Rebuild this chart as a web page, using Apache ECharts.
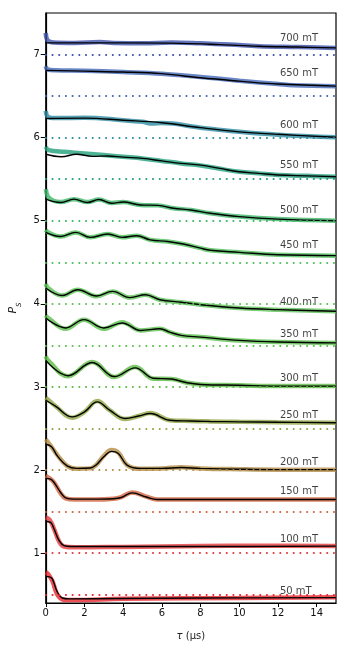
<!DOCTYPE html>
<html>
<head>
<meta charset="utf-8">
<script src="https://cdn.jsdelivr.net/npm/echarts@6/dist/echarts.min.js"></script>
<style>
  html, body { margin: 0; padding: 0; background: #fff; }
  #chart { width: 351px; height: 650px; }
</style>
</head>
<body>
<div id="chart"></div>
<script>
// field labels, offsets (dotted baselines) and label heights
const fields = ["50 mT", "100 mT", "150 mT", "200 mT", "250 mT", "300 mT", "350 mT",
  "400 mT", "450 mT", "500 mT", "550 mT", "600 mT", "650 mT", "700 mT"];
const baselines = [0.5, 1.0, 1.5, 2.0, 2.5, 3.0, 3.5, 4.0, 4.5, 5.0, 5.5, 6.0, 6.5, 7.0];
const labelY = [0.54, 1.17, 1.74, 2.09, 2.66, 3.10, 3.63, 4.02, 4.70, 5.13, 5.67, 6.15, 6.77, 7.19];
const colors = ["#e8262e", "#e53a3c", "#d0633f", "#b48d45", "#8fa543", "#5dbb45", "#5ac14c",
  "#5cc256", "#4dbf5a", "#3cb667", "#22a07b", "#2d8ca1", "#4267b7", "#3e52ab"];
const xTicks = [0, 2, 4, 6, 8, 10, 12, 14];
const yTicks = [1, 2, 3, 4, 5, 6, 7];

// fitted curves (black), [tau, P_S + offset]
const fit50 = [[0,0.72],[0.2,0.715],[0.34,0.69],[0.6,0.53],[0.86,0.46],[1.2,0.45],[4,0.455],[8,0.46],[15,0.465]];
const fit100 = [[0,1.38],[0.25,1.37],[0.43,1.29],[0.69,1.15],[0.94,1.09],[1.3,1.08],[3,1.08],[8,1.08],[15,1.085]];
const fit150 = [[0,1.90],[0.25,1.89],[0.43,1.85],[0.77,1.73],[1.03,1.665],[1.46,1.65],[2.5,1.65],[3.5,1.655],[3.9,1.67],[4.47,1.725],[5.2,1.675],[5.75,1.645],[7,1.645],[10,1.645],[15,1.645]];
const fit200 = [[0,2.31],[0.3,2.28],[0.6,2.17],[1.1,2.05],[1.6,2.02],[2.3,2.025],[2.6,2.06],[3.0,2.16],[3.4,2.225],[3.75,2.2],[4.2,2.06],[4.9,2.02],[6,2.02],[7,2.03],[8,2.02],[10,2.01],[12,2.005],[15,2.005]];
const fit250 = [[0,2.84],[0.5,2.77],[1.37,2.64],[2,2.70],[2.66,2.82],[3.3,2.72],[4.1,2.62],[4.8,2.65],[5.4,2.68],[6.4,2.60],[7.5,2.59],[8.5,2.585],[10,2.58],[12,2.575],[15,2.57]];
const fit300 = [[0,3.32],[1.15,3.135],[2.4,3.295],[3.55,3.125],[4.62,3.23],[5.55,3.105],[6.5,3.095],[7.3,3.05],[8,3.03],[10,3.02],[12,3.01],[15,3.01]];
const fit350 = [[0,3.83],[1.03,3.71],[1.97,3.81],[3.0,3.71],[3.95,3.77],[4.9,3.68],[5.9,3.70],[6.4,3.66],[7,3.62],[8,3.60],[10,3.56],[12,3.54],[15,3.53]];
const fit400 = [[0,4.19],[0.86,4.10],[1.65,4.17],[2.63,4.095],[3.45,4.15],[4.35,4.075],[5.15,4.11],[5.9,4.05],[7,4.02],[8,3.99],[10,3.95],[12,3.93],[15,3.91]];
const fit450 = [[0,4.86],[0.77,4.81],[1.55,4.86],[2.3,4.80],[3.2,4.84],[3.95,4.80],[4.7,4.82],[5.4,4.77],[6.3,4.75],[7.1,4.72],[8,4.67],[8.5,4.645],[10,4.62],[12,4.59],[15,4.58]];
const fit500 = [[0,5.26],[0.77,5.22],[1.46,5.26],[2.15,5.22],[2.75,5.255],[3.4,5.21],[4.0,5.225],[4.9,5.19],[5.8,5.185],[6.6,5.15],[7.5,5.13],[8.5,5.09],[10,5.05],[12,5.02],[15,5.0]];
const fit550 = [[0,5.80],[0.8,5.77],[1.6,5.80],[2.4,5.775],[3.2,5.78],[4,5.765],[5,5.75],[6,5.72],[7,5.69],[8,5.67],[9,5.63],[10,5.59],[11,5.57],[12,5.55],[13.5,5.54],[15,5.53]];
const fit600 = [[0,6.23],[2,6.235],[4,6.21],[6,6.18],[8,6.12],[10,6.07],[12,6.04],[15,6.005]];
const fit650 = [[0,6.81],[2,6.80],[4,6.79],[6,6.77],[8,6.72],[10,6.68],[12,6.645],[15,6.62]];
const fit700 = [[0,7.14],[4,7.14],[7,7.135],[9,7.12],[11,7.10],[13,7.09],[15,7.08]];

// measured traces (coloured bands)
const data50 = [[0,0.77],[0.15,0.74],[0.35,0.66],[0.6,0.50],[0.9,0.44],[1.5,0.435],[4,0.45],[10,0.46],[15,0.47]];
const data100 = [[0,1.43],[0.2,1.40],[0.43,1.29],[0.69,1.14],[0.94,1.08],[1.5,1.07],[4,1.075],[8,1.085],[11,1.09],[15,1.085]];
const data150 = [[0,1.93],[0.2,1.90],[0.43,1.85],[0.77,1.72],[1.03,1.66],[1.5,1.645],[2.5,1.645],[3.5,1.655],[3.9,1.675],[4.47,1.73],[5.2,1.68],[5.75,1.645],[7,1.645],[10,1.645],[15,1.645]];
const data200 = [[0,2.37],[0.2,2.31],[0.6,2.18],[1.1,2.05],[1.6,2.015],[2.3,2.02],[2.6,2.06],[3.0,2.17],[3.4,2.24],[3.75,2.21],[4.2,2.06],[4.9,2.015],[6,2.02],[7,2.035],[8,2.02],[10,2.01],[12,2.005],[15,2.005]];
const data250 = [[0,2.87],[0.15,2.84],[0.5,2.77],[1.37,2.63],[2,2.70],[2.66,2.83],[3.3,2.72],[4.1,2.615],[4.8,2.65],[5.4,2.685],[6.4,2.60],[7.5,2.59],[8.5,2.585],[10,2.58],[12,2.575],[15,2.57]];
const data300 = [[0,3.37],[0.12,3.32],[1.15,3.13],[2.4,3.30],[3.55,3.12],[4.62,3.24],[5.55,3.10],[6.5,3.095],[7.3,3.05],[8,3.03],[10,3.02],[12,3.01],[15,3.01]];
const data350 = [[0,3.86],[0.12,3.83],[1.03,3.70],[1.97,3.81],[3.0,3.70],[3.95,3.78],[4.9,3.68],[5.9,3.70],[6.4,3.66],[7,3.62],[8,3.60],[10,3.56],[12,3.54],[15,3.53]];
const data400 = [[0,4.24],[0.12,4.19],[0.86,4.10],[1.65,4.17],[2.63,4.09],[3.45,4.15],[4.35,4.075],[5.15,4.11],[5.9,4.05],[7,4.02],[8,3.99],[10,3.95],[12,3.93],[15,3.91]];
const data450 = [[0,4.89],[0.12,4.86],[0.77,4.81],[1.55,4.86],[2.3,4.80],[3.2,4.84],[3.95,4.80],[4.7,4.82],[5.4,4.77],[6.3,4.75],[7.1,4.72],[8,4.67],[8.5,4.645],[10,4.62],[12,4.59],[15,4.58]];
const data500 = [[0,5.38],[0.12,5.29],[0.4,5.24],[0.77,5.225],[1.46,5.26],[2.15,5.225],[2.75,5.255],[3.4,5.215],[4,5.225],[4.9,5.19],[5.8,5.185],[6.6,5.15],[7.5,5.13],[8.5,5.09],[10,5.05],[12,5.02],[15,5.0]];
const data550 = [[0,5.89],[0.15,5.85],[1,5.83],[2,5.81],[3,5.79],[4,5.77],[5,5.75],[6,5.72],[7,5.69],[8,5.665],[9,5.625],[10,5.59],[11,5.57],[12,5.55],[13.5,5.54],[15,5.53]];
const data600 = [[0,6.32],[0.12,6.25],[0.5,6.235],[2,6.24],[4,6.21],[5,6.19],[5.5,6.17],[6,6.175],[8,6.12],[10,6.07],[12,6.035],[15,6.005]];
const data650 = [[0,6.86],[0.1,6.82],[0.5,6.81],[2,6.805],[4,6.79],[6,6.77],[8,6.73],[10,6.685],[12,6.645],[12.8,6.63],[15,6.62]];
const data700 = [[0,7.26],[0.1,7.17],[0.4,7.145],[1.5,7.14],[2.8,7.15],[3.5,7.14],[5,7.135],[6.5,7.145],[8,7.135],[9.5,7.12],[11,7.10],[13,7.09],[15,7.08]];

const fits = [fit50, fit100, fit150, fit200, fit250, fit300, fit350, fit400, fit450, fit500, fit550, fit600, fit650, fit700];
const measured = [data50, data100, data150, data200, data250, data300, data350, data400, data450, data500, data550, data600, data650, data700];

const chart = echarts.init(document.getElementById("chart"));
const font = "DejaVu Sans";

const series = [];
fields.forEach((name, i) => {
  series.push({
    name: name + " data",
    type: "line",
    data: measured[i],
    smooth: 0.4,
    symbol: "none",
    z: 2,
    lineStyle: { color: colors[i], width: 4.5, opacity: 0.8 },
    markLine: {
      silent: true,
      symbol: "none",
      label: { show: false },
      lineStyle: { color: colors[i], type: [0.1, 6.6], width: 2, cap: "round", opacity: 1 },
      data: [{ yAxis: baselines[i] }],
    },
  });
});
fields.forEach((name, i) => {
  series.push({
    name: name + " fit",
    type: "line",
    data: fits[i],
    smooth: 0.4,
    symbol: "none",
    z: 3,
    lineStyle: { color: "#000", width: 1.4 },
  });
});
series.push({
  name: "labels",
  type: "scatter",
  symbolSize: 0,
  z: 4,
  data: fields.map((f, i) => ({ name: f, value: [12.1, labelY[i]] })),
  label: {
    show: true,
    position: "right",
    distance: 0,
    formatter: (p) => p.name,
    color: "#111",
    fontFamily: font,
    fontSize: 10,
  },
});

chart.setOption({
  animation: false,
  grid: { left: 45, right: 15, top: 13, bottom: 47, show: true, borderColor: "#000", borderWidth: 1.2 },
  xAxis: {
    type: "value",
    min: 0,
    max: 15,
    name: "{t|τ} (μs)",
    nameLocation: "middle",
    nameGap: 28,
    nameTextStyle: {
      fontFamily: font, fontSize: 10, color: "#222",
      rich: { t: { fontStyle: "italic", fontFamily: font, fontSize: 10, color: "#222" } },
    },
    axisLine: { show: true, lineStyle: { color: "#000", width: 1.2 } },
    axisTick: { show: true, length: 4, customValues: xTicks, lineStyle: { color: "#000" } },
    axisLabel: { customValues: xTicks, color: "#111", fontFamily: font, fontSize: 10, margin: 5 },
    splitLine: { show: false },
  },
  yAxis: {
    type: "value",
    min: 0.4,
    max: 7.5,
    name: "{p|P}{s|S}",
    nameLocation: "middle",
    nameGap: 19,
    nameTextStyle: {
      rich: {
        p: { fontStyle: "italic", fontFamily: font, fontSize: 11, color: "#222", lineHeight: 14 },
        s: { fontStyle: "italic", fontFamily: font, fontSize: 7, color: "#222", verticalAlign: "bottom", lineHeight: 18 },
      },
    },
    axisLine: { show: true, lineStyle: { color: "#000", width: 1.2 } },
    axisTick: { show: true, length: 5, customValues: yTicks, lineStyle: { color: "#000" } },
    axisLabel: { customValues: yTicks, color: "#111", fontFamily: font, fontSize: 10, margin: 6 },
    splitLine: { show: false },
  },
  series,
});
</script>
</body>
</html>
